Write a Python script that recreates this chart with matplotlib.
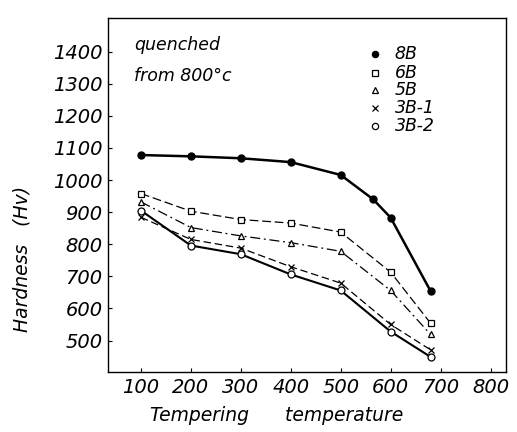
import matplotlib
matplotlib.use("Agg")
import matplotlib.pyplot as plt

# ========= data =========
temp = [100, 200, 300, 400, 500, 600, 680]
temp_8b = [100, 200, 300, 400, 500, 565, 600, 680]

hv_8b = [1078, 1074, 1068, 1056, 1016, 940, 883, 654]
hv_6b = [958, 903, 877, 866, 838, 713, 554]
hv_5b = [932, 852, 826, 805, 778, 656, 519]
hv_3b1 = [884, 815, 788, 730, 679, 550, 471]
hv_3b2 = [905, 796, 769, 706, 656, 528, 449]

series_names = ["8B", "6B", "5B", "3B-1", "3B-2"]
xticks = [100, 200, 300, 400, 500, 600, 700, 800]
yticks = [500, 600, 700, 800, 900, 1000, 1100, 1200, 1300, 1400]

# ========= plot =========
fig = plt.figure(figsize=(5.17, 4.32), dpi=100)
ax = fig.add_axes([0.2089, 0.1389, 0.7698, 0.8194])

fi = dict(style="italic", family="DejaVu Sans")

ax.plot(temp_8b, hv_8b, "-", color="black", lw=1.8, marker="o", ms=5,
        mfc="black", mec="black")
ax.plot(temp, hv_6b, color="black", lw=0.9, dashes=(7, 3), marker="s", ms=5,
        mfc="white", mec="black", mew=0.9)
ax.plot(temp, hv_5b, color="black", lw=0.9, dashes=(8, 3, 1.5, 3), marker="^",
        ms=5, mfc="white", mec="black", mew=0.9)
ax.plot(temp, hv_3b1, color="black", lw=0.9, dashes=(6, 3), marker="x", ms=5,
        mec="black", mew=0.9)
ax.plot(temp, hv_3b2, "-", color="black", lw=1.5, marker="o", ms=5,
        mfc="white", mec="black", mew=0.9)

ax.set_xlim(34, 831)
ax.set_ylim(402, 1505)
ax.set_xticks(xticks)
ax.set_yticks(yticks)
ax.set_xticklabels([str(t) for t in xticks], fontsize=14, **fi)
ax.set_yticklabels([str(t) for t in yticks], fontsize=14, **fi)
ax.tick_params(direction="in", length=3, width=0.8, pad=4)
for s in ax.spines.values():
    s.set_linewidth(1.0)

# axis titles
fig.text(0.043, 0.40, "Hardness   (Hv)", rotation=90, fontsize=13.5,
         ha="center", va="center", **fi)
fig.text(0.536, 0.039, "Tempering      temperature", fontsize=13.5,
         ha="center", va="center", **fi)

# text block
ax.text(0.065, 0.925, "quenched", transform=ax.transAxes, fontsize=12.5,
        va="center", **fi)
ax.text(0.065, 0.835, "from 800°c", transform=ax.transAxes, fontsize=12.5,
        va="center", **fi)

# hand-made legend
leg_y = [0.897, 0.846, 0.796, 0.745, 0.694]
mk = [dict(marker="o", mfc="black"), dict(marker="s", mfc="white"),
      dict(marker="^", mfc="white"), dict(marker="x", mfc="white"),
      dict(marker="o", mfc="white")]
for name, yy, m in zip(series_names, leg_y, mk):
    ax.plot([0.67], [yy], transform=ax.transAxes, ls="none", ms=4.5,
            mec="black", mew=0.9, **m)
    ax.text(0.72, yy, name, transform=ax.transAxes, fontsize=12.5,
            va="center", **fi)

fig.savefig("out.png", dpi=100)
